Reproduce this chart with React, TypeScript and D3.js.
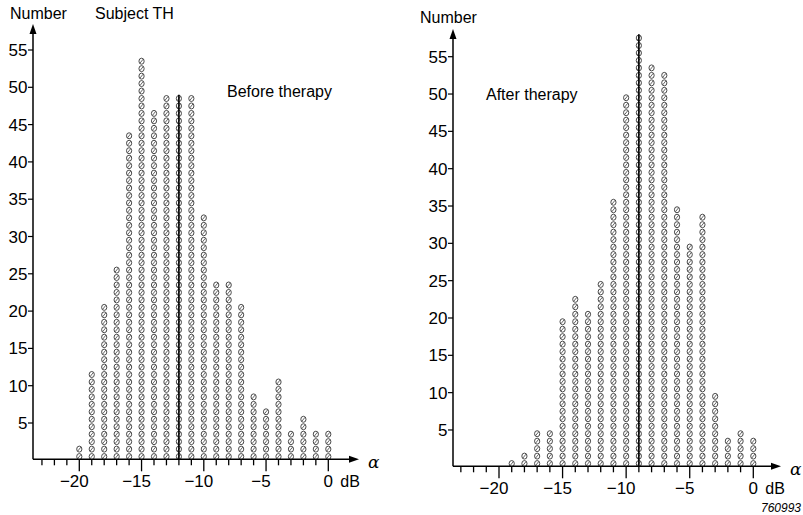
import React from 'react';
import * as d3 from 'd3';

// attenuation steps (dB) and how many responses fell on each step
const beforeDb = [-20, -19, -18, -17, -16, -15, -14, -13, -12, -11, -10, -9, -8, -7, -6, -5, -4, -3, -2, -1, 0];
const beforeCounts = [2, 12, 21, 26, 44, 54, 47, 49, 49, 49, 33, 24, 24, 21, 9, 7, 11, 4, 6, 4, 4];

const afterDb = [-19, -18, -17, -16, -15, -14, -13, -12, -11, -10, -9, -8, -7, -6, -5, -4, -3, -2, -1, 0];
const afterCounts = [1, 2, 5, 5, 20, 23, 21, 25, 36, 50, 58, 54, 53, 35, 30, 34, 10, 4, 5, 4];

// the vertical marker sits on these steps
const beforeMarker = -12;
const afterMarker = -9;

const yTickValues = [5, 10, 15, 20, 25, 30, 35, 40, 45, 50, 55];
const xMajorTicks = [-20, -15, -10, -5, 0];
const xMinorTicks = d3.range(-23, 1);

const FONT = "'Liberation Sans', Arial, Helvetica, sans-serif";

type PanelProps = {
  db: number[];
  counts: number[];
  marker: number;
  title: string;
  titleX: number;
  titleY: number;
  axisX: number;
  xRange: [number, number];
  yRange: [number, number];
  arrowTop: number;
  arrowRight: number;
  numberLabelX: number;
  numberLabelY: number;
  tickLabelY: number;
};

const Panel = (p: PanelProps) => {
  const x = d3.scaleLinear().domain([-20, 0]).range(p.xRange);
  const y = d3.scaleLinear().domain([0, 55]).range(p.yRange);
  const base = y(0) - 1;

  const cols = p.db.map((d, i) => ({ db: d, n: p.counts[i] }));
  const markerCount = p.counts[p.db.indexOf(p.marker)];

  return (
    <g fontFamily={FONT} fill="#000">
      {/* dot columns */}
      {cols.map(c => (
        <g key={c.db}>
          {d3.range(c.n).map(k => {
            const cx = x(c.db);
            const cy = y(k + 0.5);
            return (
              <g key={k} stroke="#404040" fill="none">
                <ellipse cx={cx} cy={cy} rx={2.6} ry={3} strokeWidth={0.95} />
                <line x1={cx - 1.6} y1={cy + 2} x2={cx + 1.6} y2={cy - 2} strokeWidth={0.8} />
              </g>
            );
          })}
        </g>
      ))}

      {/* marker line */}
      <line x1={x(p.marker)} x2={x(p.marker)} y1={base} y2={y(markerCount)} stroke="#000" strokeWidth={1.6} />

      {/* y axis */}
      <line x1={p.axisX} x2={p.axisX} y1={base} y2={p.arrowTop + 8} stroke="#000" strokeWidth={1.5} />
      <path d={`M${p.axisX},${p.arrowTop} L${p.axisX - 3.5},${p.arrowTop + 10} L${p.axisX + 3.5},${p.arrowTop + 10} Z`} fill="#000" />
      {yTickValues.map(t => (
        <g key={t}>
          <line x1={p.axisX - 5} x2={p.axisX} y1={y(t)} y2={y(t)} stroke="#000" strokeWidth={1.2} />
          <text x={p.axisX - 5.5} y={y(t) + 6} textAnchor="end" fontSize={17}>{t}</text>
        </g>
      ))}
      <text x={p.numberLabelX} y={p.numberLabelY} fontSize={16}>Number</text>

      {/* x axis */}
      <line x1={p.axisX} x2={p.arrowRight - 8} y1={base} y2={base} stroke="#000" strokeWidth={1.5} />
      <path d={`M${p.arrowRight},${base} L${p.arrowRight - 10},${base - 3.5} L${p.arrowRight - 10},${base + 3.5} Z`} fill="#000" />
      {xMinorTicks.map(t => {
        const major = xMajorTicks.includes(t);
        return (
          <line key={t} x1={x(t)} x2={x(t)} y1={base} y2={base + (major ? 12 : 6)} stroke="#000" strokeWidth={1.3} />
        );
      })}
      {xMajorTicks.map(t => (
        <text key={t} x={x(t) - (t < 0 ? 5 : 0)} y={p.tickLabelY} textAnchor="middle" fontSize={17}>
          {t < 0 ? `\u2212${-t}` : `${t}`}
        </text>
      ))}
      <text x={x(0) + 12} y={p.tickLabelY} fontSize={16}>dB</text>
      <text x={p.arrowRight + 9} y={base + 9} fontSize={17} fontFamily="'DejaVu Serif', serif" fontStyle="italic">α</text>

      <text x={p.titleX} y={p.titleY} fontSize={16}>{p.title}</text>
    </g>
  );
};

const App = () => {
  return (
    <svg width={803} height={515} style={{ position: 'absolute', left: 0, top: 0, background: '#fff' }}>
      <Panel
        db={beforeDb}
        counts={beforeCounts}
        marker={beforeMarker}
        title="Before therapy"
        titleX={227}
        titleY={97}
        axisX={33}
        xRange={[79.3, 328.3]}
        yRange={[460.3, 50]}
        arrowTop={24}
        arrowRight={359}
        numberLabelX={10}
        numberLabelY={19}
        tickLabelY={487}
      />
      <text x={95} y={19} fontSize={16} fontFamily={FONT} fill="#000">Subject TH</text>
      <Panel
        db={afterDb}
        counts={afterCounts}
        marker={afterMarker}
        title="After therapy"
        titleX={486}
        titleY={100}
        axisX={453}
        xRange={[499, 753.3]}
        yRange={[467.3, 56.7]}
        arrowTop={29}
        arrowRight={781}
        numberLabelX={420}
        numberLabelY={23}
        tickLabelY={494}
      />
      <text x={801} y={512} textAnchor="end" fontSize={12} fontStyle="italic" fontFamily={FONT} fill="#000">760993</text>
    </svg>
  );
};

export default App;
